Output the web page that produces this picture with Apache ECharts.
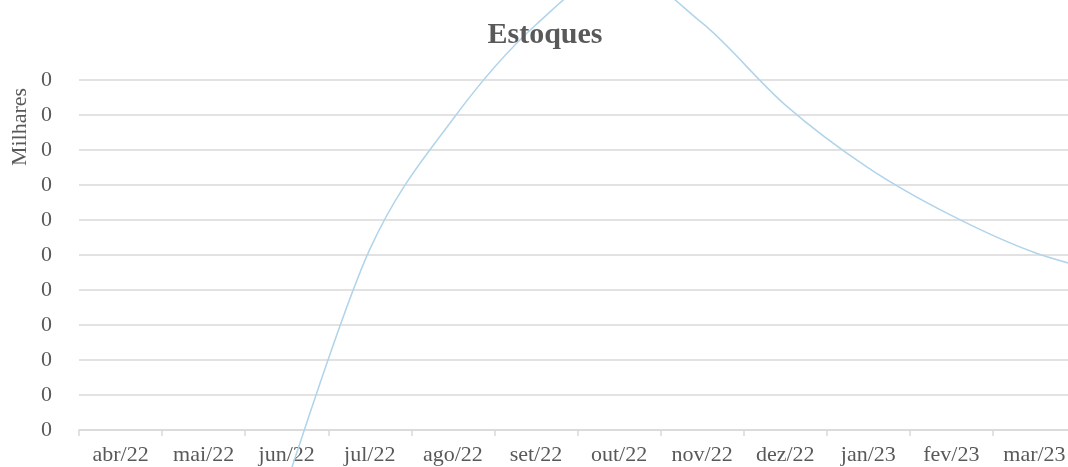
<!DOCTYPE html>
<html>
<head>
<meta charset="utf-8">
<script src="https://cdn.jsdelivr.net/npm/echarts@6/dist/echarts.min.js"></script>
<style>
html,body{margin:0;padding:0;background:#fff;overflow:hidden;width:1068px;height:467px;}
#chart{width:1164px;height:467px;}
</style>
</head>
<body>
<div id="chart"></div>
<script>
// Month categories shown on the axis (the chart is cropped at the right edge)
var categories = ['abr/22','mai/22','jun/22','jul/22','ago/22','set/22','out/22','nov/22','dez/22','jan/23','fev/23','mar/23'];
// The line runs one month past the visible axis (beyond the crop)
var lineMonths = ['abr/22','mai/22','jun/22','jul/22','ago/22','set/22','out/22','nov/22','dez/22','jan/23','fev/23','mar/23','abr/23'];
// Stock values (units; axis shows thousands, rounded -> all "0")
var estoques = [null, null, -15, 51.6, 88.8, 115.8, 131.4, 116.3, 92.9, 74.9, 61.3, 50.7, 44];
// y axis scale
var yMin = 0, yMax = 100, yStep = 10;

var FONT = 'Liberation Serif';
var TXT = '#595959';
var GRID = '#d9d9d9';
var LINE = '#b0d4ea';

// Excel-style smoothed line (Catmull-Rom Bezier) through points mapped by the axes
function renderSmoothLine(params, api) {
  if (params.dataIndex !== 0) return null;
  var pts = [];
  for (var i = 0; i < estoques.length; i++) {
    if (estoques[i] == null) continue;
    pts.push(api.coord([i, estoques[i]]));
  }
  if (pts.length < 2) return null;
  var d = 'M' + pts[0][0] + ' ' + pts[0][1];
  for (var k = 0; k < pts.length - 1; k++) {
    var p0 = pts[k - 1] || pts[k];
    var p1 = pts[k];
    var p2 = pts[k + 1];
    var p3 = pts[k + 2] || pts[k + 1];
    var c1x = p1[0] + (p2[0] - p0[0]) / 6, c1y = p1[1] + (p2[1] - p0[1]) / 6;
    var c2x = p2[0] - (p3[0] - p1[0]) / 6, c2y = p2[1] - (p3[1] - p1[1]) / 6;
    d += ' C' + c1x + ' ' + c1y + ' ' + c2x + ' ' + c2y + ' ' + p2[0] + ' ' + p2[1];
  }
  return {
    type: 'path',
    shape: {pathData: d},
    style: {fill: null, stroke: LINE, lineWidth: 1.5}
  };
}

var chart = echarts.init(document.getElementById('chart'));
chart.setOption({
  animation: false,
  title: {
    text: 'Estoques',
    left: 540,
    textAlign: 'center',
    top: 15,
    textStyle: {fontFamily: FONT, fontSize: 30, fontWeight: 'bold', color: TXT}
  },
  graphic: [{
    type: 'text',
    x: 20, y: 127,
    rotation: Math.PI / 2,
    style: {text: 'Milhares', fontFamily: FONT, fontSize: 22, fill: TXT, align: 'center', verticalAlign: 'middle'}
  }],
  grid: [
    {left: 79, right: 88, top: 80, bottom: 37, containLabel: false},
    {left: 79, right: 5, top: 80, bottom: 37, containLabel: false}
  ],
  xAxis: [{
    type: 'category',
    gridIndex: 0,
    data: categories,
    boundaryGap: true,
    axisLine: {lineStyle: {color: GRID, width: 1.5}},
    axisTick: {show: true, length: 6, lineStyle: {color: GRID, width: 1.5}},
    axisLabel: {fontFamily: FONT, fontSize: 22, color: TXT, margin: 14, interval: 0}
  }, {
    type: 'category',
    gridIndex: 1,
    data: lineMonths,
    boundaryGap: true,
    show: false
  }],
  yAxis: [{
    type: 'value',
    gridIndex: 0,
    min: yMin, max: yMax, interval: yStep,
    axisLine: {show: false},
    axisTick: {show: false},
    splitLine: {lineStyle: {color: GRID, width: 1.5}},
    axisLabel: {
      fontFamily: FONT, fontSize: 22, color: TXT, margin: 27,
      formatter: function (v) { return Math.round(v / 1000).toString(); }
    }
  }, {
    type: 'value',
    gridIndex: 1,
    min: yMin, max: yMax, interval: yStep,
    show: false,
    splitLine: {show: false}
  }],
  series: [{
    name: 'Estoques',
    type: 'custom',
    coordinateSystem: 'cartesian2d',
    xAxisIndex: 1,
    yAxisIndex: 1,
    clip: false,
    data: lineMonths.map(function (m, i) { return [i, estoques[i] == null ? 0 : estoques[i]]; }),
    renderItem: renderSmoothLine
  }]
});
</script>
</body>
</html>
